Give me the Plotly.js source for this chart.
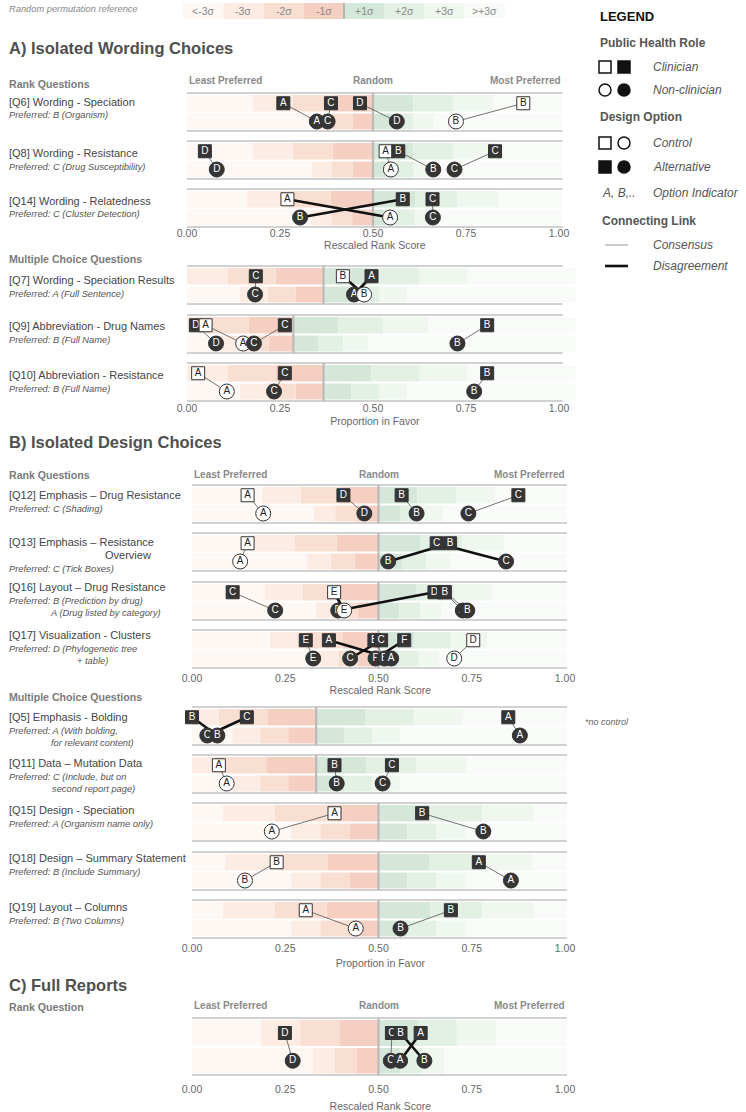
<!DOCTYPE html>
<html><head><meta charset="utf-8">
<script src="https://cdn.plot.ly/plotly-3.0.1.min.js"></script>
<style>html,body{margin:0;padding:0;background:#fff}#chart{width:746px;height:1112px}</style>
</head><body><div id="chart"></div>
<script>
// ================= DATA =================
const Q6  = {title:['[Q6] Wording - Speciation'], preferred:['Preferred: B (Organism)'],
  options:['A','B','C','D'], clinician:[0.259,0.904,0.387,0.465], nonclinician:[0.349,0.723,0.378,0.564],
  control:'B', disagree:[], random:0.5, sigma:[0.108,0.054]};
const Q8  = {title:['[Q8] Wording - Resistance'], preferred:['Preferred: C (Drug Susceptibility)'],
  options:['A','B','C','D'], clinician:[0.534,0.568,0.828,0.048], nonclinician:[0.548,0.662,0.719,0.080],
  control:'A', disagree:[], random:0.5, sigma:[0.108,0.055]};
const Q14 = {title:['[Q14] Wording - Relatedness'], preferred:['Preferred: C (Cluster Detection)'],
  options:['A','B','C'], clinician:[0.270,0.580,0.660], nonclinician:[0.546,0.304,0.661],
  control:'A', disagree:['A','B'], random:0.5, sigma:[0.113,0.056]};
const Q7  = {title:['[Q7] Wording - Speciation Results'], preferred:['Preferred: A (Full Sentence)'],
  options:['A','B','C'], clinician:[0.496,0.419,0.185], nonclinician:[0.449,0.476,0.183],
  control:'B', disagree:['A','B'], random:0.367, sigma:[0.129,0.075]};
const Q9  = {title:['[Q9] Abbreviation - Drug Names'], preferred:['Preferred: B (Full Name)'],
  options:['A','B','C','D'], clinician:[0.050,0.807,0.263,0.024], nonclinician:[0.151,0.727,0.180,0.078],
  control:'A', disagree:[], random:0.286, sigma:[0.121,0.067]};
const Q10 = {title:['[Q10] Abbreviation - Resistance'], preferred:['Preferred: B (Full Name)'],
  options:['A','B','C'], clinician:[0.030,0.807,0.263], nonclinician:[0.107,0.772,0.234],
  control:'A', disagree:[], random:0.367, sigma:[0.129,0.075]};
const Q12 = {title:['[Q12] Emphasis \u2013 Drug Resistance'], preferred:['Preferred: C (Shading)'],
  options:['A','B','C','D'], clinician:[0.149,0.562,0.875,0.406], nonclinician:[0.191,0.602,0.741,0.462],
  control:'A', disagree:[], random:0.5, sigma:[0.104,0.058]};
const Q13 = {title:['[Q13] Emphasis \u2013 Resistance','Overview'], preferred:['Preferred: C (Tick Boxes)'],
  options:['A','B','C'], clinician:[0.149,0.692,0.656], nonclinician:[0.129,0.526,0.842],
  control:'A', disagree:['B','C'], random:0.5, sigma:[0.112,0.064]};
const Q16 = {title:['[Q16] Layout \u2013 Drug Resistance'], preferred:['Preferred: B (Prediction by drug)','A (Drug listed by category)'],
  options:['A','B','C','D','E'], clinician:[0.676,0.678,0.109,0.650,0.381], nonclinician:[0.726,0.738,0.223,0.392,0.408],
  control:'E', disagree:['D','E'], random:0.5, sigma:[0.102,0.056]};
const Q17 = {title:['[Q17] Visualization - Clusters'], preferred:['Preferred: D (Phylogenetic tree','+ table)'],
  options:['A','B','C','D','E','F'], clinician:[0.367,0.489,0.507,0.754,0.305,0.569], nonclinician:[0.534,0.516,0.424,0.703,0.325,0.492],
  control:'D', disagree:['A','C','F'], random:0.5, sigma:[0.097,0.054]};
const Q5  = {title:['[Q5] Emphasis - Bolding'], preferred:['Preferred: A (With bolding,','for relevant content)'],
  options:['A','B','C'], clinician:[0.848,0.000,0.147], nonclinician:[0.879,0.068,0.041],
  control:null, disagree:['B','C'], random:0.333, sigma:[0.131,0.075]};
const Q11 = {title:['[Q11] Data \u2013 Mutation Data'], preferred:['Preferred: C (Include, but on','second report page)'],
  options:['A','B','C'], clinician:[0.072,0.382,0.536], nonclinician:[0.093,0.388,0.511],
  control:'A', disagree:[], random:0.333, sigma:[0.134,0.075]};
const Q15 = {title:['[Q15] Design - Speciation'], preferred:['Preferred: A (Organism name only)'],
  options:['A','B'], clinician:[0.382,0.617], nonclinician:[0.214,0.781],
  control:'A', disagree:[], random:0.5, sigma:[0.139,0.078]};
const Q18 = {title:['[Q18] Design \u2013 Summary Statement'], preferred:['Preferred: B (Include Summary)'],
  options:['A','B'], clinician:[0.769,0.227], nonclinician:[0.855,0.142],
  control:'B', disagree:[], random:0.5, sigma:[0.137,0.078]};
const Q19 = {title:['[Q19] Layout \u2013 Columns'], preferred:['Preferred: B (Two Columns)'],
  options:['A','B'], clinician:[0.305,0.694], nonclinician:[0.439,0.559],
  control:'A', disagree:[], random:0.5, sigma:[0.139,0.078]};
const FULL = {title:[], preferred:[],
  options:['A','B','C','D'], clinician:[0.613,0.559,0.536,0.249], nonclinician:[0.558,0.623,0.533,0.270],
  control:null, disagree:['A','B'], random:0.5, sigma:[0.105,0.059]};

const tickValues = [0, 0.25, 0.5, 0.75, 1];
const tickLabels = ['0.00','0.25','0.50','0.75','1.00'];
const sigmaLabels = ['<-3\u03c3','-3\u03c3','-2\u03c3','-1\u03c3','+1\u03c3','+2\u03c3','+3\u03c3','>+3\u03c3'];

// ================= LAYOUT / STYLE =================
const FONT = '"Liberation Sans", Arial, Helvetica, sans-serif';
const W = 746, H = 1112;
const px = x => x / W, py = y => 1 - y / H;
const NEG = ['#f4cfc2', '#f9dfd2', '#fcece3', '#fef8f4'];
const POS = ['#d4e7d8', '#e3f0e4', '#eff7ef', '#f8fbf7'];

const PANELS = [
  {qs:[Q6,Q8,Q14], tops:[93,141,189], rowH:38, x0:187, x1:559, bandHi:1.01, lineHi:1.01, header:81, title:'Rescaled Rank Score', labelOff:[9,12,12], axisPad:-2, standoff:4},
  {qs:[Q7,Q9,Q10], tops:[266,315,363], rowH:38, x0:187, x1:559, bandHi:1.045, lineHi:1.01, header:null, title:'Proportion in Favor', labelOff:[14,11,12], axisPad:-1, standoff:5},
  {qs:[Q12,Q13,Q16,Q17], tops:[485,533,582,630], rowH:38, x0:192, x1:565, bandHi:1.005, lineHi:1.005, header:474, title:'Rescaled Rank Score', labelOff:[10,9,5,5], axisPad:2, standoff:4},
  {qs:[Q5,Q11,Q15,Q18,Q19], tops:[707,755,803,852,900], rowH:38, x0:192, x1:565, bandHi:1.005, lineHi:1.005, header:null, title:'Proportion in Favor', labelOff:[10,8,7,6,7], axisPad:2, standoff:7},
  {qs:[FULL], tops:[1018], rowH:57, x0:192, x1:565, bandHi:1.005, lineHi:1.005, header:1005, title:'Rescaled Rank Score', labelOff:[0], axisPad:6, standoff:9}
];
const CONT_TITLE_X = 103;
const CONT_PREF_X = new Map([[Q16,48],[Q17,75],[Q5,49],[Q11,50]]);

const shapes = [], annotations = [], traces = [];
const layout = {width:W, height:H, margin:{l:0,r:0,t:0,b:0}, paper_bgcolor:'#ffffff',
  plot_bgcolor:'rgba(0,0,0,0)', showlegend:false, hovermode:false, font:{family:FONT, color:'#555'}};

function txt(text, x, y, o) {
  o = o || {};
  annotations.push({text:text, x:px(x), y:py(y), xref:'paper', yref:'paper',
    xanchor:o.xanchor||'left', yanchor:'middle', showarrow:false,
    font:{family:FONT, size:o.size||12, color:o.color||'#444', style:o.italic?'italic':'normal', weight:o.bold?'bold':'normal'}});
}

PANELS.forEach((P, i) => {
  const k = i === 0 ? '' : String(i + 1);
  const xr = 'x' + k, yr = 'y' + k;
  const s = P.x1 - P.x0, R0 = -0.06, R1 = 1.07;
  const last = P.tops[P.tops.length - 1] + P.rowH;
  const yTop = P.tops[0] - 3, yBot = last + P.axisPad;
  layout['xaxis' + k] = {domain:[px(P.x0 + R0 * s), px(P.x0 + R1 * s)], range:[R0, R1], anchor:yr,
    tickvals:tickValues, ticktext:tickLabels, showgrid:false, zeroline:false, showline:false, ticks:'',
    tickfont:{size:10.5, color:'#666'}, title:{text:P.title, font:{size:10.5, color:'#666'}, standoff:P.standoff}, fixedrange:true};
  layout['yaxis' + k] = {domain:[py(yBot), py(yTop)], range:[yBot, yTop], anchor:xr, visible:false, fixedrange:true};

  if (P.header !== null) {
    const hf = {family:FONT, size:10, color:'#8a8a8a', weight:'bold'};
    annotations.push({text:'Least Preferred', x:0, y:py(P.header), xref:xr, yref:'paper', xanchor:'left', yanchor:'middle', showarrow:false, font:hf});
    annotations.push({text:'Random', x:0.5, y:py(P.header), xref:xr, yref:'paper', xanchor:'center', yanchor:'middle', showarrow:false, font:hf});
    annotations.push({text:'Most Preferred', x:P.bandHi, y:py(P.header), xref:xr, yref:'paper', xanchor:'right', yanchor:'middle', showarrow:false, font:hf});
  }

  P.qs.forEach((q, r) => {
    const T = P.tops[r], Hh = P.rowH;
    const sub = [[T + 2, T + Hh / 2 - 0.5], [T + Hh / 2 + 1.5, T + Hh - 1.5]];
    const yc = sub.map(b => (b[0] + b[1]) / 2);
    const c = q.random;
    sub.forEach((b, si) => {
      const sg = q.sigma[si];
      for (let j = 0; j < 4; j++) {
        const lo = j < 3 ? Math.max(c - (j + 1) * sg, 0) : 0, hi = c - j * sg;
        if (hi > lo) shapes.push({type:'rect', xref:xr, yref:'paper', x0:lo, x1:hi, y0:py(b[1]), y1:py(b[0]), fillcolor:NEG[j], line:{width:0}, layer:'below'});
        const lo2 = c + j * sg, hi2 = j < 3 ? Math.min(c + (j + 1) * sg, P.bandHi) : P.bandHi;
        if (hi2 > lo2) shapes.push({type:'rect', xref:xr, yref:'paper', x0:lo2, x1:hi2, y0:py(b[1]), y1:py(b[0]), fillcolor:POS[j], line:{width:0}, layer:'below'});
      }
    });
    [T, T + Hh].forEach(yy => shapes.push({type:'line', xref:xr, yref:'paper', x0:0, x1:P.lineHi, y0:py(yy), y1:py(yy), line:{color:'#c2c2c2', width:1.6}, layer:'below'}));
    shapes.push({type:'line', xref:xr, yref:'paper', x0:c, x1:c, y0:py(T), y1:py(T + Hh), line:{color:'#bababa', width:2.2}, layer:'below'});
    q.options.forEach((o, oi) => {
      const thick = q.disagree.includes(o);
      traces.push({type:'scatter', mode:'lines', xaxis:xr, yaxis:yr, x:[q.clinician[oi], q.nonclinician[oi]], y:[yc[0], yc[1]],
        line:{color:thick ? '#111' : '#505050', width:thick ? 2.6 : 0.8}, hoverinfo:'skip', cliponaxis:false});
    });
    [q.clinician, q.nonclinician].forEach((vals, si) => {
      const order = vals.map((v, idx) => idx).sort((a, b) => vals[a] - vals[b]);
      order.forEach(idx => {
        const ctrl = q.control === q.options[idx];
        traces.push({type:'scatter', mode:'markers+text', xaxis:xr, yaxis:yr, x:[vals[idx]], y:[yc[si]], text:[q.options[idx]],
          textposition:'middle center', cliponaxis:false, hoverinfo:'skip',
          textfont:{family:FONT, size:10, color:ctrl ? '#222' : '#ffffff'},
          marker:{symbol:si === 0 ? 'square' : 'circle', size:si === 0 ? 13 : 15, color:ctrl ? '#ffffff' : '#353535', line:{color:'#333', width:1}}});
      });
    });
    if (q.title.length) {
      let yy = T + P.labelOff[r];
      q.title.forEach((t, ti) => { txt(t, ti === 0 ? 7 : CONT_TITLE_X, yy, {size:11, color:'#454545'}); yy += 13.5; });
      q.preferred.forEach((t, ti) => { txt(t, ti === 0 ? 7 : CONT_PREF_X.get(q), yy, {size:9.3, color:'#555', italic:true}); yy += 12.5; });
    }
  });
});

txt('A) Isolated Wording Choices', 7, 48, {size:16.5, bold:true, color:'#505050'});
txt('Rank Questions', 7, 84, {size:10.6, bold:true, color:'#7a7a7a'});
txt('Multiple Choice Questions', 7, 259, {size:10.6, bold:true, color:'#7a7a7a'});
txt('B) Isolated Design Choices', 7, 442, {size:16.5, bold:true, color:'#505050'});
txt('Rank Questions', 7, 475, {size:10.6, bold:true, color:'#7a7a7a'});
txt('Multiple Choice Questions', 7, 697, {size:10.6, bold:true, color:'#7a7a7a'});
txt('C) Full Reports', 7, 985, {size:16.5, bold:true, color:'#505050'});
txt('Rank Question', 7, 1007, {size:10.6, bold:true, color:'#7a7a7a'});
txt('*no control', 583, 722, {size:9, italic:true, color:'#666'});

txt('Random permutation reference', 7, 9, {size:9.3, italic:true, color:'#888'});
const stripColors = [NEG[3], NEG[2], NEG[1], NEG[0], POS[0], POS[1], POS[2], POS[3]];
const bx0 = 183, bw = 40.25;
stripColors.forEach((col, j) => {
  const a = bx0 + j * bw;
  shapes.push({type:'rect', xref:'paper', yref:'paper', x0:px(a), x1:px(a + bw), y0:py(19), y1:py(3), fillcolor:col, line:{width:0}});
  txt(sigmaLabels[j], a + bw / 2, 11, {size:10.5, color:'#8a8a8a', xanchor:'center'});
});
shapes.push({type:'line', xref:'paper', yref:'paper', x0:px(bx0 + 4 * bw), x1:px(bx0 + 4 * bw), y0:py(19), y1:py(3), line:{color:'#b5b5b5', width:2}});

txt('LEGEND', 598, 16, {size:13, bold:true, color:'#111'});
txt('Public Health Role', 598, 43, {size:12, bold:true, color:'#555'});
txt('Design Option', 598, 117, {size:12, bold:true, color:'#555'});
txt('Connecting Link', 600, 221, {size:12, bold:true, color:'#555'});
function lsym(type, filled, x, y) {
  shapes.push({type:type, xref:'paper', yref:'paper', x0:px(x), x1:px(x + 12), y0:py(y + 6), y1:py(y - 6),
    fillcolor:filled ? '#111' : '#fff', line:{color:'#111', width:1.5}});
}
lsym('rect', false, 599, 67); lsym('rect', true, 618, 67); txt('Clinician', 651, 67, {size:12, italic:true, color:'#555'});
lsym('circle', false, 599, 90); lsym('circle', true, 618, 90); txt('Non-clinician', 651, 90, {size:12, italic:true, color:'#555'});
lsym('rect', false, 599, 143); lsym('circle', false, 618, 143); txt('Control', 651, 143, {size:12, italic:true, color:'#555'});
lsym('rect', true, 599, 167); lsym('circle', true, 618, 167); txt('Alternative', 651, 167, {size:12, italic:true, color:'#555'});
txt('A, B,..', 600, 193, {size:12, italic:true, color:'#555'}); txt('Option Indicator', 651, 193, {size:12, italic:true, color:'#555'});
shapes.push({type:'line', xref:'paper', yref:'paper', x0:px(605), x1:px(628), y0:py(245), y1:py(245), line:{color:'#999', width:1}});
txt('Consensus', 651, 245, {size:12, italic:true, color:'#555'});
shapes.push({type:'line', xref:'paper', yref:'paper', x0:px(605), x1:px(628), y0:py(266), y1:py(266), line:{color:'#111', width:2.6}});
txt('Disagreement', 651, 266, {size:12, italic:true, color:'#555'});

layout.shapes = shapes;
layout.annotations = annotations;
Plotly.newPlot('chart', traces, layout, {staticPlot:true, displayModeBar:false});
</script>
</body></html>
